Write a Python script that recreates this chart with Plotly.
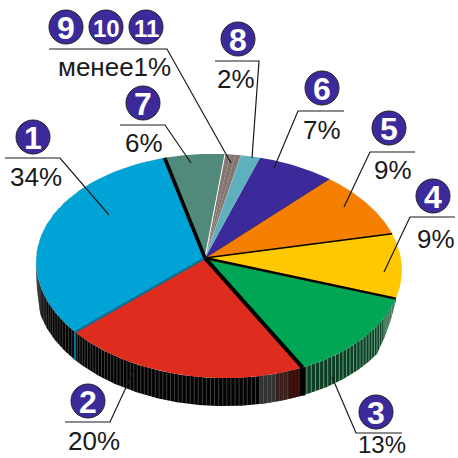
import numpy as np
import plotly.graph_objects as go

# ---- data ----
slice_ids = ["1", "2", "3", "4", "5", "6", "8", "9", "10", "11", "7"]
slice_vals = [33.75, 21.1, 12.2, 8.8, 9.4, 7.0, 1.8, 0.5, 0.5, 0.5, 5.85]
slice_cols = ["#00A3D6", "#DE2D1E", "#00A653", "#FFC800", "#F47F00", "#3C2A9A",
              "#5FB0BD", "#85756F", "#85756F", "#85756F", "#51897A"]
label_groups = [["1"], ["2"], ["3"], ["4"], ["5"], ["6"], ["7"], ["8"], ["9", "10", "11"]]
label_texts = ["34%", "20%", "13%", "9%", "9%", "7%", "6%", "2%", "менее1%"]

# ---- layout of the picture (pixels) ----
START = 105.5
CX, CY, RX, RY, TILT = 219.0, 266.0, 183.0, 112.0, 2.0
APEX = (205.0, 258.0)
DEPTH = 28.0
PURPLE = "#3C2A9A"
INK = "#1a1a1a"

px = (APEX[0] - CX) / RX
py = -(APEX[1] - CY) / RY
p = complex(px, py)
a = p / (1 + np.sqrt(1 - abs(p) ** 2))
tr = np.radians(TILT)


def rim(theta_deg):
    z = np.exp(1j * np.radians(theta_deg))
    w = (z + a) / (1 + np.conj(a) * z)
    ex, ey = RX * w.real, -RY * w.imag
    return (CX + ex * np.cos(tr) - ey * np.sin(tr),
            CY + ex * np.sin(tr) + ey * np.cos(tr))


def taper(x, y):
    # wall height fades out toward the right and left ends of the visible rim
    s = np.clip((y - (CY + 30)) / 30.0, 0, 1)
    s = np.where(x < CX, np.clip((y - (CY - 5)) / 25.0, 0, 1), s)
    return DEPTH * s


fracs = np.array(slice_vals) / sum(slice_vals) * 360
starts = START + np.concatenate([[0], np.cumsum(fracs)[:-1]])
ends = starts + fracs

fig = go.Figure()


def poly(xs, ys, fill, line=None, lw=0):
    fig.add_trace(go.Scatter(x=xs, y=ys, mode="lines", fill="toself", fillcolor=fill,
                             line=dict(color=line or fill, width=lw), hoverinfo="skip"))


def seg(xs, ys, color, w):
    fig.add_trace(go.Scatter(x=xs, y=ys, mode="lines", line=dict(color=color, width=w),
                             hoverinfo="skip", connectgaps=False))


def wall_band(t0, t1, color):
    t = np.linspace(t0, t1, 40)
    x, y = rim(t)
    h = taper(x, y)
    fig.add_trace(go.Scatter(x=np.r_[x, x[::-1]], y=np.r_[y, (y + h)[::-1]], mode="lines",
                             fill="toself", fillcolor=color, line=dict(width=0), hoverinfo="skip"))


wall_style = {"1": ("#030303", "#6e6e6e", 0.5),
              "2": ("#020202", "#7a7a7a", 0.5),
              "3": ("#0B3D22", "#7FB898", 0.8)}
for i, sid in enumerate(slice_ids):
    if sid not in wall_style:
        continue
    fill, stripe, w = wall_style[sid]
    th = np.linspace(starts[i], ends[i], 200)
    x, y = rim(th)
    h = taper(x, y)
    poly(np.r_[x, x[::-1]], np.r_[y, (y + h)[::-1]], fill)
    n = int(np.hypot(np.diff(x), np.diff(y)).sum() / 3.7)
    ths = np.linspace(starts[i], ends[i], n)
    sx, sy = rim(ths)
    sh = taper(sx, sy)
    xs, ys = [], []
    for a1, b1, c1 in zip(sx, sy, sh):
        xs += [a1, a1, None]
        ys += [b1, b1 + c1, None]
    seg(xs, ys, stripe, w)
    if sid == "2":
        wall_band(ends[i] - 13, ends[i] - 8, "rgba(110,110,110,0.45)")
        wall_band(ends[i] - 8, ends[i] - 4, "rgba(100,50,45,0.6)")
        wall_band(ends[i] - 4, ends[i], "rgba(70,15,12,0.85)")
    if sid == "3":
        wall_band(ends[i] - 10, ends[i], "rgba(120,170,145,0.35)")

# slice tops
for i, sid in enumerate(slice_ids):
    th = np.linspace(starts[i], ends[i], 80)
    x, y = rim(th)
    poly(np.r_[APEX[0], x, APEX[0]], np.r_[APEX[1], y, APEX[1]], slice_cols[i])

# dark seams between slices, keyed by the slice whose END boundary they follow
seams = {"1": ("#0B6F96", 2.2), "2": ("#000000", 4.0), "3": ("#000000", 2.4), "4": ("#000000", 1.6),
         "5": ("#2a1a60", 0.8), "7": ("#000000", 3.6), "8": ("#A8C8CC", 0.6), "11": ("#FFFFFF", 1.0)}
for i, sid in enumerate(slice_ids):
    if sid in seams:
        ex, ey = rim(ends[i])
        seg([APEX[0], float(ex)], [APEX[1], float(ey)], seams[sid][0], seams[sid][1])
# cut faces seen at the wall
for sid, col, w in [("1", "#0B6F96", 2.2), ("2", "#000000", 5.0)]:
    i = slice_ids.index(sid)
    ex, ey = rim(ends[i])
    ex, ey = float(ex), float(ey)
    seg([ex, ex], [ey, ey + DEPTH], col, w)

# leaders: horizontal rule + pointer
leaders = [[(5, 158), (60, 158), (109, 215)],
           [(65, 422), (110, 422), (135, 368)],
           [(402, 433), (356, 433), (332, 377)],
           [(455, 217), (410, 217), (384, 272)],
           [(415, 152), (370, 152), (344, 207)],
           [(344, 111), (298, 111), (274, 168)],
           [(120, 125), (165, 125), (191, 163)],
           [(215, 61), (259, 61), (252, 158)],
           [(49, 49), (167, 49), (231, 163)]]
for pts in leaders:
    seg([q[0] for q in pts], [q[1] for q in pts], INK, 1.2)

# badges
badge_xy = [[(33, 137)], [(88, 401)], [(376, 412)], [(433, 196)], [(389, 128)], [(322, 88)],
            [(143, 103)], [(238, 39)], [(66, 27), (106, 27), (146, 27)]]
text_xy = [(36, 177), (94, 441), (382, 444), (436, 239), (393, 170), (322, 130), (144, 143), (236, 79), (114, 67)]
text_size = [26, 26, 24, 26, 26, 26, 26, 26, 26]
bx, by, bt = [], [], []
for grp, xy in zip(label_groups, badge_xy):
    for t, q in zip(grp, xy):
        bx.append(q[0]); by.append(q[1]); bt.append(t)
fig.add_trace(go.Scatter(x=bx, y=by, mode="markers", hoverinfo="skip",
                         marker=dict(size=34, color=PURPLE, line=dict(color="#222222", width=1))))
annos = []
for t, xx, yy in zip(bt, bx, by):
    annos.append(dict(x=xx, y=yy + 1, text="<b>%s</b>" % t, showarrow=False, xanchor="center", yanchor="middle",
                      font=dict(family="Liberation Sans", size=24 if len(t) > 1 else 32, color="white")))
for t, q, fs in zip(label_texts, text_xy, text_size):
    annos.append(dict(x=q[0], y=q[1], text=t, showarrow=False, xanchor="center", yanchor="middle",
                      font=dict(family="Liberation Sans", size=fs, color=INK)))

fig.update_layout(width=458, height=458, margin=dict(l=0, r=0, t=0, b=0), showlegend=False,
                  paper_bgcolor="white", plot_bgcolor="white", annotations=annos,
                  xaxis=dict(range=[0, 458], visible=False, fixedrange=True),
                  yaxis=dict(range=[458, 0], visible=False, fixedrange=True))
fig.write_html("out.html", config=dict(displayModeBar=False),
               post_script="document.body.style.margin='0';document.body.style.overflow='hidden';")
